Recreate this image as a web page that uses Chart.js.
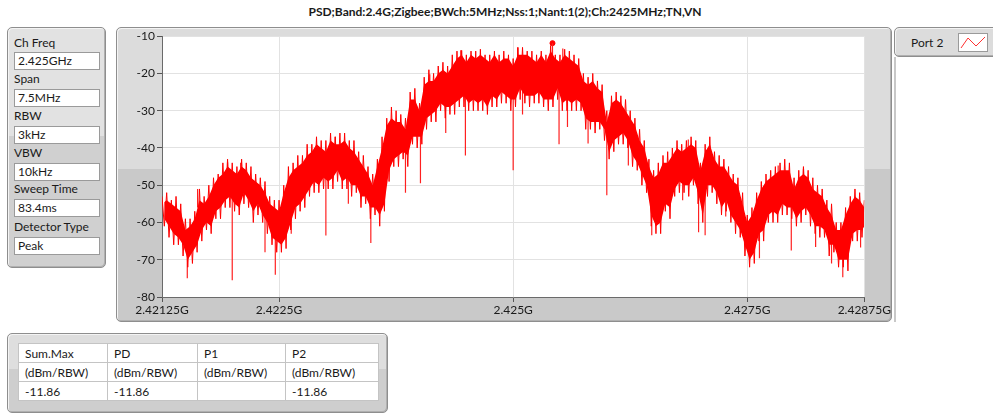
<!DOCTYPE html>
<html>
<head>
<meta charset="utf-8">
<script src="https://cdn.jsdelivr.net/npm/chart.js@4"></script>
<style>
  body { margin: 0; width: 993px; height: 415px; background: #fff; position: relative; overflow: hidden;
         font-family: Lato, "Liberation Sans", sans-serif; font-size: 12px; color: #1a1a1a; }
  .panel { position: absolute; border: 1px solid #8e8e8e; border-radius: 5px; box-sizing: border-box;
           box-shadow: inset 1px 1px 0 #f4f4f4, inset -1px -1px 0 #b0b0b0; }
  #title { position: absolute; left: 0; width: 1010px; top: 4px; text-align: center; font-weight: bold; font-size: 12px; }
  #left { left: 7px; top: 27px; width: 99px; height: 241px;
          background: linear-gradient(to bottom, #e2e2e2 0, #e2e2e2 45%, #d0d0d0 45%, #d0d0d0 100%); }
  .lbl { position: absolute; left: 6px; }
  .box { position: absolute; left: 6px; width: 86px; height: 18px; background: #fff; border: 1px solid #9a9a9a;
         box-sizing: border-box; padding-left: 3px; line-height: 16px; }
  #plotPanel { left: 116px; top: 27px; width: 776px; height: 295px;
               background: linear-gradient(to bottom, #dcdcdc 0, #dcdcdc 48%, #c9c9c9 48%, #c9c9c9 100%); }
  #chartWrap { position: absolute; left: 116px; top: 27px; width: 776px; height: 295px; }
  #legend { left: 894px; top: 27px; width: 110px; height: 30px; background: #dcdcdc; }
  #legBody { position: absolute; left: 894px; top: 57px; width: 100px; height: 265px; border-left: 2px solid #c8c8c8; }
  #table { left: 7px; top: 333px; width: 381px; height: 80px;
           background: linear-gradient(to bottom, #dedede 0, #dedede 45%, #cecece 45%, #cecece 100%); }
  table { position: absolute; left: 10px; top: 9px; border-collapse: collapse; background: #fff; }
  td { border: 1px solid #c4c4c4; height: 19px; padding: 0 0 0 6px; box-sizing: border-box; }
</style>
</head>
<body>
<div id="title">PSD;Band:2.4G;Zigbee;BWch:5MHz;Nss:1;Nant:1(2);Ch:2425MHz;TN,VN</div>

<div class="panel" id="left">
  <div class="lbl" style="top:7px">Ch Freq</div>
  <div class="box" style="top:24px">2.425GHz</div>
  <div class="lbl" style="top:43px">Span</div>
  <div class="box" style="top:61px">7.5MHz</div>
  <div class="lbl" style="top:80px">RBW</div>
  <div class="box" style="top:98px">3kHz</div>
  <div class="lbl" style="top:117px">VBW</div>
  <div class="box" style="top:135px">10kHz</div>
  <div class="lbl" style="top:153px">Sweep Time</div>
  <div class="box" style="top:171px">83.4ms</div>
  <div class="lbl" style="top:191px">Detector Type</div>
  <div class="box" style="top:209px">Peak</div>
</div>

<div class="panel" id="plotPanel"></div>
<div id="chartWrap"><canvas id="chart" width="776" height="295"></canvas></div>

<div class="panel" id="legend">
  <div style="position:absolute;left:16px;top:7px">Port 2</div>
  <svg style="position:absolute;left:63px;top:5px" width="30" height="19">
    <rect x="0.5" y="0.5" width="29" height="18" fill="#fff" stroke="#9a9a9a"/>
    <polyline points="3,15 10,5 18,13 27,4" fill="none" stroke="#ff3030" stroke-width="1"/>
  </svg>
</div>
<div id="legBody"></div>

<div class="panel" id="table">
  <table>
    <tr><td style="width:89px">Sum.Max</td><td style="width:90px">PD</td><td style="width:88px">P1</td><td style="width:93px">P2</td></tr>
    <tr><td>(dBm/RBW)</td><td>(dBm/RBW)</td><td>(dBm/RBW)</td><td>(dBm/RBW)</td></tr>
    <tr><td>-11.86</td><td>-11.86</td><td></td><td>-11.86</td></tr>
  </table>
</div>

<script>
// sweep: 2.42125 GHz .. 2.42875 GHz, frequencies in MHz on the axis
const startMHz = 2421.25;
const stepMHz = 0.05;

// solid part of the trace: top / bottom at each sweep step (dBm/RBW)
const bandHi = [-55,-54,-55,-56,-57,-62,-61,-59,-54,-55, -53,-50,-48,-47,-45,-46,-47,-45,-46,-48,
                -49,-50,-52,-55,-56,-57,-52,-48,-46,-45, -44,-42,-41,-39,-40,-41,-38,-39,-39,-38,
                -40,-41,-43,-45,-47,-50,-45,-40,-34,-32, -33,-33,-35,-27,-27,-30,-23,-22,-22,-20,
                -19,-20,-18,-16,-15,-17,-15,-16,-15,-16, -17,-15,-17,-16,-16,-18,-15,-15,-15,-16,
                -17,-15,-17,-14,-16,-17,-15,-16,-17,-18, -22,-23,-22,-24,-25,-33,-28,-27,-28,-30,
                -32,-34,-38,-40,-45,-48,-47,-44,-44,-42, -40,-41,-40,-39,-40,-46,-41,-39,-43,-45,
                -45,-47,-49,-50,-55,-60,-58,-54,-51,-49, -48,-47,-46,-46,-46,-51,-48,-47,-48,-51,
                -52,-53,-56,-58,-62,-62,-58,-55,-53,-54, -56];
const bandLo = [-59,-61,-63,-64,-66,-70,-68,-66,-62,-60, -61,-57,-56,-54,-53,-55,-56,-52,-54,-57,
                -55,-58,-60,-64,-65,-66,-64,-60,-56,-55, -53,-51,-49,-50,-48,-49,-48,-46,-49,-48,
                -50,-50,-53,-53,-56,-56,-58,-55,-46,-43, -42,-41,-42,-37,-37,-37,-32,-31,-30,-28,
                -29,-29,-28,-27,-26,-28,-27,-28,-27,-29, -26,-27,-25,-26,-27,-27,-24,-26,-26,-26,
                -25,-27,-27,-27,-24,-28,-27,-28,-27,-28, -32,-33,-33,-33,-35,-41,-38,-37,-36,-38,
                -42,-44,-47,-50,-58,-61,-60,-55,-56,-51, -49,-50,-50,-48,-52,-58,-50,-50,-52,-56,
                -54,-58,-60,-62,-66,-70,-68,-63,-62,-58, -57,-58,-55,-56,-56,-59,-57,-56,-58,-61,
                -61,-62,-66,-66,-70,-70,-70,-63,-62,-62, -60];

// ragged outer edge of the trace at each step
const edgeHi = [-53,-52,-54,-53,-55,-59,-59,-57,-51,-53, -50,-48,-47,-44,-43,-44,-45,-43,-44,-45,
                -47,-48,-49,-53,-54,-54,-50,-45,-44,-42, -42,-39,-39,-37,-38,-38,-36,-37,-36,-36,
                -38,-38,-41,-42,-45,-47,-43,-37,-32,-29, -30,-31,-32,-25,-24,-28,-21,-19,-20,-18,
                -17,-18,-15,-14,-13.8,-15,-14,-14,-13.5,-15, -15,-14,-15,-14,-15,-16,-13,-13,-14,-14,
                -15,-14,-15,-12.5,-15,-15,-13.5,-14,-15,-16, -20,-21,-20,-22,-23,-30,-26,-25,-26,-27,
                -30,-32,-35,-38,-43,-46,-44,-42,-41,-40, -38,-39,-38,-37,-38,-44,-39,-37,-41,-42,
                -43,-45,-47,-48,-52,-58,-56,-52,-49,-47, -46,-45,-44,-43,-44,-48,-46,-45,-46,-48,
                -50,-51,-54,-55,-60,-60,-56,-53,-51,-52, -54];
const edgeLo = [-61,-64,-66,-66,-69,-72,-71,-68,-65,-62, -63,-59,-59,-56,-56,-57,-58,-55,-56,-60,
                -58,-60,-63,-66,-68,-68,-67,-62,-59,-57, -56,-53,-52,-52,-51,-51,-51,-49,-51,-51,
                -53,-52,-56,-55,-59,-58,-61,-57,-49,-45, -45,-43,-45,-39,-40,-39,-35,-33,-33,-30,
                -32,-31,-31,-29,-29,-30,-30,-30,-30,-31, -29,-29,-28,-28,-30,-29,-27,-28,-29,-28,
                -28,-29,-30,-29,-27,-30,-30,-30,-30,-30, -35,-35,-36,-35,-38,-43,-41,-39,-39,-40,
                -45,-46,-50,-52,-61,-63,-63,-57,-59,-53, -52,-52,-53,-50,-55,-60,-53,-52,-55,-58,
                -57,-60,-63,-64,-69,-72,-71,-65,-65,-60, -60,-60,-58,-58,-59,-61,-60,-58,-61,-63,
                -64,-64,-69,-68,-72,-72,-73,-65,-65,-64, -62];

// single spikes sticking out of the band: frequency, start, end
const spikeMHz  = [2421.52, 2421.63, 2421.95, 2422.00, 2422.09, 2422.35, 2422.46, 2422.63, 2423.00, 2423.10,
                   2423.24, 2423.48, 2423.85, 2424.01, 2424.11, 2424.28, 2424.44, 2424.49, 2425.00, 2425.05,
                   2425.10, 2425.42, 2425.49, 2425.53, 2425.58, 2425.80, 2426.00, 2426.23, 2426.48, 2426.81,
                   2426.87, 2426.98, 2427.05, 2427.27, 2427.63, 2427.83, 2427.97, 2428.10, 2428.23, 2428.40,
                   2428.52, 2428.71];
const spikeFrom = [-68, -56, -50, -50, -48, -58, -62, -55, -45, -42,
                   -45, -52, -38, -30, -25, -25, -20, -22, -22, -20,
                   -20, -18, -22, -20, -22, -28, -35, -33, -58, -47,
                   -44, -52, -46, -50, -56, -48, -52, -50, -57, -62,
                   -66, -58];
const spikeTo   = [-75, -51, -43.8, -75.5, -44, -68, -74, -63, -63.5, -37,
                   -55, -65.5, -52, -49.5, -20.2, -36, -13.8, -42, -46, -13,
                   -31, -11.86, -39, -13.3, -34.4, -38.8, -52.7, -44.7, -63.4, -54,
                   -37.7, -62.6, -63.4, -58.4, -69.6, -44.7, -67.5, -45.6, -66.6, -71,
                   -74.7, -66.7];

// marker at the maximum
const peakMHz = [2425.42];
const peakDb = [-11.86];

const xTicks = [2421.25, 2422.5, 2425, 2427.5, 2428.75];
const xTickLabels = ['2.42125G', '2.4225G', '2.425G', '2.4275G', '2.42875G'];
const yTicks = [-10, -20, -30, -40, -50, -60, -70, -80];

const fAt = i => startMHz + i * stepMHz;
// outer edges joined as a zig-zag: top at each step, bottom half a step later
const zigzag = [];
edgeHi.forEach((v, i) => {
    zigzag.push({ x: fAt(i), y: v }, { x: fAt(i) + stepMHz / 2, y: edgeLo[i] });
});
const bandHiPts = bandHi.map((v, i) => ({ x: fAt(i), y: v }));
const bandLoPts = bandLo.map((v, i) => ({ x: fAt(i) + stepMHz / 2, y: v }));
const spikePts = [];
spikeMHz.forEach((f, i) => {
    spikePts.push({ x: f, y: spikeFrom[i] }, { x: f, y: spikeTo[i] }, { x: f, y: null });
});

const plotBg = {
    id: 'plotBg',
    beforeDraw(c) {
        const a = c.chartArea, g = c.ctx;
        g.save();
        g.fillStyle = '#fff';
        g.fillRect(a.left, a.top, a.right - a.left, a.bottom - a.top);
        g.restore();
    }
};

const ctx = document.getElementById('chart').getContext('2d');
const chart = new Chart(ctx, {
    type: 'line',
    data: {
        datasets: [{
            label: 'Port 2 band',
            data: bandHiPts,
            borderWidth: 0,
            borderColor: '#ff0000',
            backgroundColor: '#ff0000',
            pointRadius: 0,
            fill: '+1'
        }, {
            label: 'Port 2 band low',
            data: bandLoPts,
            borderWidth: 0,
            borderColor: '#ff0000',
            pointRadius: 0,
            fill: false
        }, {
            label: 'Port 2',
            data: zigzag,
            borderColor: '#ff0000',
            borderWidth: 1,
            pointRadius: 0,
            fill: false
        }, {
            label: 'spikes',
            data: spikePts,
            borderColor: '#ff2020',
            borderWidth: 1.2,
            pointRadius: 0,
            spanGaps: false,
            fill: false
        }, {
            label: 'max',
            data: peakMHz.map((f, i) => ({ x: f, y: peakDb[i] })),
            showLine: false,
            pointRadius: 2.5,
            pointBackgroundColor: '#ff0000',
            pointBorderColor: '#ff0000'
        }]
    },
    options: {
        responsive: false,
        animation: false,
        layout: { padding: { left: 0, right: 20, top: 9, bottom: 0 } },
        plugins: { legend: { display: false }, tooltip: { enabled: false } },
        scales: {
            x: {
                type: 'linear',
                min: 2421.25,
                max: 2428.75,
                afterBuildTicks: ax => { ax.ticks = xTicks.map(v => ({ value: v })); },
                afterFit: ax => { ax.height = 25; },
                ticks: {
                    autoSkip: false, maxRotation: 0, padding: 1,
                    color: '#1a1a1a', font: { family: 'Lato', size: 12 },
                    callback: (v, i) => xTickLabels[i]
                },
                grid: { color: '#e2e2e2', tickColor: '#555', tickLength: 5 },
                border: { color: '#6a6a6a' }
            },
            y: {
                min: -80,
                max: -10,
                afterBuildTicks: ax => { ax.ticks = yTicks.map(v => ({ value: v })); },
                afterFit: ax => { ax.width = 46; },
                ticks: { padding: 2, color: '#1a1a1a', font: { family: 'Lato', size: 12 } },
                grid: { color: '#e2e2e2', tickColor: '#555', tickLength: 5 },
                border: { color: '#6a6a6a' }
            }
        }
    },
    plugins: [plotBg]
});
</script>
</body>
</html>
